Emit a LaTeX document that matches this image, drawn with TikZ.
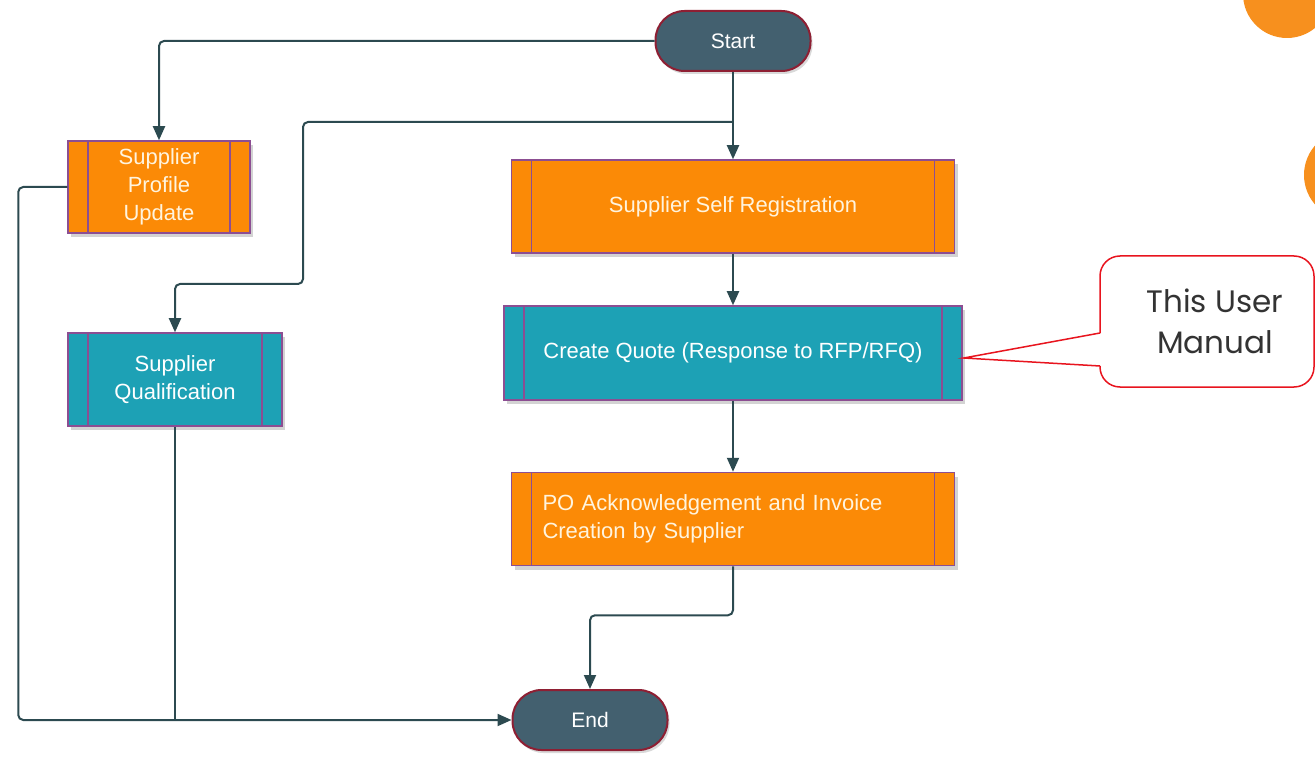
\documentclass[tikz,border=0pt]{standalone}
\usepackage{fontspec}
\setmainfont{Liberation Sans}
\newfontfamily\notefont{Poppins}
\usetikzlibrary{graphs,positioning,arrows.meta,shadows}
\definecolor{boxorange}{HTML}{FB8A06}
\definecolor{boxteal}{HTML}{1DA1B5}
\definecolor{boxline}{HTML}{8C4E92}
\definecolor{creamtext}{HTML}{FFF4DE}
\definecolor{termfill}{HTML}{43606F}
\definecolor{termline}{HTML}{8E1F33}
\definecolor{flowline}{HTML}{2C4A50}
\definecolor{dotorange}{HTML}{F7901E}
\definecolor{notered}{HTML}{E8141E}
\definecolor{notetext}{HTML}{333333}
\tikzset{
    process/.style ={
        shape=rectangle,
        draw=boxline,
        line width=1.5pt,
        minimum height=93pt,
        align=center,
        font=\fontsize{22}{28}\selectfont,
        drop shadow={shadow xshift=3pt, shadow yshift=-4pt, opacity=0.35},
        path picture={
            \draw[boxline, line width=1.5pt]
                ([xshift=20pt]path picture bounding box.north west) -- ([xshift=20pt]path picture bounding box.south west)
                ([xshift=-20pt]path picture bounding box.north east) -- ([xshift=-20pt]path picture bounding box.south east);
        }
    },
    orangebox/.style ={
        process,
        fill=boxorange,
        text=creamtext
    },
    tealbox/.style ={
        process,
        fill=boxteal,
        text=white
    },
    terminal/.style ={
        shape=rectangle,
        rounded corners=29pt,
        draw=termline,
        line width=2pt,
        fill=termfill,
        text=white,
        minimum width=155pt,
        minimum height=60pt,
        font=\fontsize{21}{24}\selectfont,
        drop shadow={shadow xshift=2pt, shadow yshift=-3pt, opacity=0.3}
    },
    flow/.style ={
        draw=flowline,
        line width=2pt,
        rounded corners=5pt
    },
    note/.style ={
        shape=rectangle,
        rounded corners=20pt,
        draw=notered,
        line width=1.5pt,
        fill=white,
        text=notetext,
        minimum width=214pt,
        minimum height=131pt
    }
}

\begin{document}
\begin{tikzpicture}[x=1pt, y=-1pt, >={Triangle[length=14pt,width=12pt]}]
    \useasboundingbox (0,0) rectangle (1315,759);
    % corner dots
    \begin{scope}
        \clip (0,0) rectangle (1315,759);
        \fill[dotorange] (1287,-6) circle (44);
        \fill[dotorange] (1349,175) circle (45);
    \end{scope}
    \node[terminal] (start) at (733,41) {Start};
    \node[orangebox, minimum width=182pt, minimum height=92pt] (profile) at (159,187) {Supplier\\Profile\\Update};
    \node[orangebox, minimum width=443pt] (selfreg) at (733,206.5) {Supplier Self Registration};
    \node[tealbox, minimum width=214pt] (qualif) at (175,379.5) {Supplier\\Qualification};
    \node[tealbox, minimum width=458pt, minimum height=94pt] (quote) at (733,353) {Create Quote (Response to RFP/RFQ)};
    \node[orangebox, align=left, text width=381pt, inner xsep=31pt] (po) at (733,519) {PO Acknowledgement and Invoice\\Creation by Supplier};
    \node[terminal] (End) at (590,720) {End};
    \node[note] (manual) at (1207,321.5) {};
    \node[text=notetext, align=center, font=\notefont\fontsize{31}{41}\selectfont] (manualtext) at (1215,321) {This User\\Manual};
    \coordinate (split) at (733,122);
    \coordinate (bend) at (303,284);
    \coordinate (tipa) at (1100,333);
    \coordinate (tipb) at (1100,366);
    % connectors
    \draw[flow, ->] (start.west) -| (profile.north);
    \draw[flow, ->] (start.south) -- (selfreg.north);
    \draw[flow, ->] (split) -| (bend) -| (qualif.north);
    \graph[edges={draw=flowline, line width=2pt}]{
        (selfreg)->(quote)->(po);
    };
    \draw[flow, ->] (po.south) -- ++(0,49) -| (End.north);
    \draw[flow, ->] (profile.west) -- ++(-49,0) |- (End.west);
    \draw[flow] (qualif.south) -- (qualif.south |- End.west);
    % callout pointer
    \fill[white] ([xshift=2pt]tipa) -- ([xshift=1pt,yshift=-5pt]quote.east) -- ([xshift=2pt]tipb) -- cycle;
    \draw[notered, line width=1.5pt, line join=miter] (tipa) -- ([xshift=1pt,yshift=-5pt]quote.east) -- (tipb);
\end{tikzpicture}
\end{document}
